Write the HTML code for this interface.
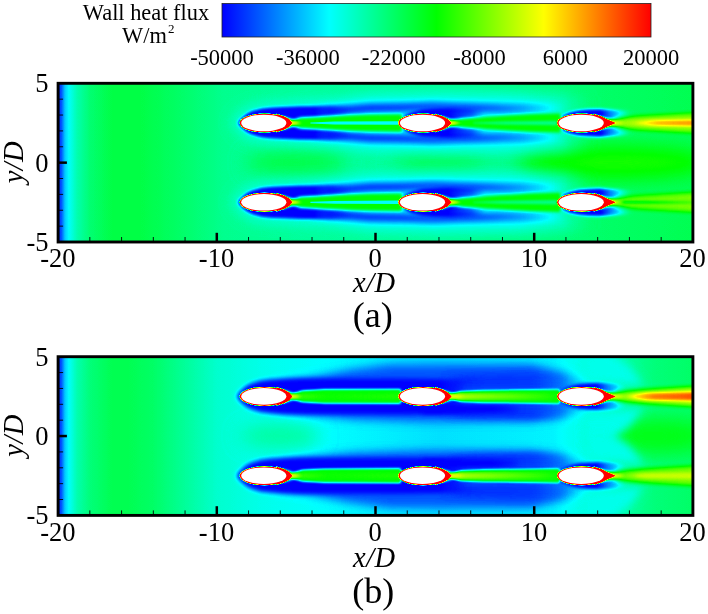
<!DOCTYPE html>
<html><head><meta charset="utf-8"><title>Wall heat flux</title>
<style>
html,body{margin:0;padding:0;background:#fff;}
body{width:708px;height:614px;overflow:hidden;position:relative;font-family:"Liberation Serif",serif;}
svg{position:absolute;left:0;top:0;display:block}
text{font-family:"Liberation Serif",serif;fill:#000}
.t{font-size:22.5px}
.k{font-size:26.5px}
.ax{font-size:28.5px;font-style:italic;letter-spacing:0.4px}
.cap{font-size:36px}
.lg{font-size:22.4px}
</style></head><body>
<svg width="708" height="614" viewBox="0 0 708 614">
<defs>
<linearGradient id="cb" x1="0" x2="1" y1="0" y2="0">
<stop offset="0" stop-color="#0000ff"/><stop offset="0.25" stop-color="#00ffff"/><stop offset="0.5" stop-color="#00ff00"/><stop offset="0.75" stop-color="#ffff00"/><stop offset="1" stop-color="#ff0000"/>
</linearGradient>
<filter id="cmap" filterUnits="userSpaceOnUse" x="0" y="0" width="708" height="614" color-interpolation-filters="sRGB">
<feComponentTransfer>
<feFuncR type="table" tableValues="0 0 0 1 1"/>
<feFuncG type="table" tableValues="0 1 1 1 0"/>
<feFuncB type="table" tableValues="1 1 0 0 0"/>
</feComponentTransfer>
</filter>
<filter id="b07" filterUnits="userSpaceOnUse" x="0" y="0" width="708" height="614" color-interpolation-filters="sRGB"><feGaussianBlur stdDeviation="0.7"/></filter>
<filter id="b1" filterUnits="userSpaceOnUse" x="0" y="0" width="708" height="614" color-interpolation-filters="sRGB"><feGaussianBlur stdDeviation="1"/></filter>
<filter id="b15" filterUnits="userSpaceOnUse" x="0" y="0" width="708" height="614" color-interpolation-filters="sRGB"><feGaussianBlur stdDeviation="1.5"/></filter>
<filter id="b2" filterUnits="userSpaceOnUse" x="0" y="0" width="708" height="614" color-interpolation-filters="sRGB"><feGaussianBlur stdDeviation="2"/></filter>
<filter id="b3" filterUnits="userSpaceOnUse" x="0" y="0" width="708" height="614" color-interpolation-filters="sRGB"><feGaussianBlur stdDeviation="3"/></filter>
<filter id="b4" filterUnits="userSpaceOnUse" x="0" y="0" width="708" height="614" color-interpolation-filters="sRGB"><feGaussianBlur stdDeviation="4"/></filter>
<filter id="b6" filterUnits="userSpaceOnUse" x="0" y="0" width="708" height="614" color-interpolation-filters="sRGB"><feGaussianBlur stdDeviation="6"/></filter>
<filter id="b9" filterUnits="userSpaceOnUse" x="0" y="0" width="708" height="614" color-interpolation-filters="sRGB"><feGaussianBlur stdDeviation="9"/></filter>
<filter id="b14" filterUnits="userSpaceOnUse" x="0" y="0" width="708" height="614" color-interpolation-filters="sRGB"><feGaussianBlur stdDeviation="14"/></filter>
<linearGradient id="g1" gradientUnits="userSpaceOnUse" x1="58.1" x2="692.9" y1="0" y2="0"><stop offset="0.000" stop-color="#080808" stop-opacity="1.00"/><stop offset="0.005" stop-color="#141414" stop-opacity="1.00"/><stop offset="0.011" stop-color="#333333" stop-opacity="1.00"/><stop offset="0.018" stop-color="#424242" stop-opacity="1.00"/><stop offset="0.030" stop-color="#545454" stop-opacity="1.00"/><stop offset="0.050" stop-color="#636363" stop-opacity="1.00"/><stop offset="0.085" stop-color="#6e6e6e" stop-opacity="1.00"/><stop offset="0.130" stop-color="#6e6e6e" stop-opacity="1.00"/><stop offset="0.190" stop-color="#666666" stop-opacity="1.00"/><stop offset="0.260" stop-color="#5c5c5c" stop-opacity="1.00"/><stop offset="0.400" stop-color="#595959" stop-opacity="1.00"/><stop offset="0.600" stop-color="#5c5c5c" stop-opacity="1.00"/><stop offset="0.800" stop-color="#636363" stop-opacity="1.00"/><stop offset="1.000" stop-color="#6b6b6b" stop-opacity="1.00"/></linearGradient>
<linearGradient id="g2" gradientUnits="userSpaceOnUse" x1="224.4" x2="591.8" y1="0" y2="0"><stop offset="0.000" stop-color="#454545" stop-opacity="0.60"/><stop offset="0.300" stop-color="#424242" stop-opacity="0.85"/><stop offset="0.800" stop-color="#424242" stop-opacity="0.85"/><stop offset="0.920" stop-color="#474747" stop-opacity="0.60"/><stop offset="1.000" stop-color="#4c4c4c" stop-opacity="0.00"/></linearGradient>
<linearGradient id="g3" gradientUnits="userSpaceOnUse" x1="309.4" x2="566.8" y1="0" y2="0"><stop offset="0.000" stop-color="#000000" stop-opacity="0.00"/><stop offset="0.080" stop-color="#000000" stop-opacity="1.00"/><stop offset="0.200" stop-color="#000000" stop-opacity="0.95"/><stop offset="0.420" stop-color="#000000" stop-opacity="0.88"/><stop offset="0.620" stop-color="#000000" stop-opacity="0.84"/><stop offset="0.720" stop-color="#000000" stop-opacity="0.70"/><stop offset="0.820" stop-color="#000000" stop-opacity="0.50"/><stop offset="0.920" stop-color="#000000" stop-opacity="0.26"/><stop offset="1.000" stop-color="#000000" stop-opacity="0.00"/></linearGradient>
<linearGradient id="g4" gradientUnits="userSpaceOnUse" x1="234.4" x2="349.4" y1="0" y2="0"><stop offset="0.000" stop-color="#000000" stop-opacity="1.00"/><stop offset="0.700" stop-color="#000000" stop-opacity="1.00"/><stop offset="0.850" stop-color="#000000" stop-opacity="0.60"/><stop offset="1.000" stop-color="#000000" stop-opacity="0.00"/></linearGradient>
<linearGradient id="g5" gradientUnits="userSpaceOnUse" x1="393.1" x2="485.1" y1="0" y2="0"><stop offset="0.000" stop-color="#000000" stop-opacity="1.00"/><stop offset="0.600" stop-color="#000000" stop-opacity="1.00"/><stop offset="0.850" stop-color="#000000" stop-opacity="0.60"/><stop offset="1.000" stop-color="#000000" stop-opacity="0.00"/></linearGradient>
<linearGradient id="g6" gradientUnits="userSpaceOnUse" x1="551.8" x2="631.8" y1="0" y2="0"><stop offset="0.000" stop-color="#242424" stop-opacity="1.00"/><stop offset="0.250" stop-color="#000000" stop-opacity="1.00"/><stop offset="0.620" stop-color="#000000" stop-opacity="1.00"/><stop offset="0.820" stop-color="#1f1f1f" stop-opacity="0.70"/><stop offset="1.000" stop-color="#404040" stop-opacity="0.00"/></linearGradient>
<linearGradient id="g7" gradientUnits="userSpaceOnUse" x1="603.8" x2="692.9" y1="0" y2="0"><stop offset="0.000" stop-color="#cccccc" stop-opacity="1.00"/><stop offset="0.100" stop-color="#a8a8a8" stop-opacity="1.00"/><stop offset="0.450" stop-color="#a3a3a3" stop-opacity="1.00"/><stop offset="1.000" stop-color="#a3a3a3" stop-opacity="1.00"/></linearGradient>
<linearGradient id="g8" gradientUnits="userSpaceOnUse" x1="617.8" x2="692.9" y1="0" y2="0"><stop offset="0.000" stop-color="#9e9e9e" stop-opacity="0.00"/><stop offset="0.300" stop-color="#bdbdbd" stop-opacity="1.00"/><stop offset="0.550" stop-color="#d1d1d1" stop-opacity="1.00"/><stop offset="1.000" stop-color="#d9d9d9" stop-opacity="1.00"/></linearGradient>
<linearGradient id="g9" gradientUnits="userSpaceOnUse" x1="224.4" x2="591.8" y1="0" y2="0"><stop offset="0.000" stop-color="#454545" stop-opacity="0.60"/><stop offset="0.300" stop-color="#424242" stop-opacity="0.85"/><stop offset="0.800" stop-color="#424242" stop-opacity="0.85"/><stop offset="0.920" stop-color="#474747" stop-opacity="0.60"/><stop offset="1.000" stop-color="#4c4c4c" stop-opacity="0.00"/></linearGradient>
<linearGradient id="g10" gradientUnits="userSpaceOnUse" x1="309.4" x2="566.8" y1="0" y2="0"><stop offset="0.000" stop-color="#000000" stop-opacity="0.00"/><stop offset="0.080" stop-color="#000000" stop-opacity="1.00"/><stop offset="0.200" stop-color="#000000" stop-opacity="0.95"/><stop offset="0.420" stop-color="#000000" stop-opacity="0.88"/><stop offset="0.620" stop-color="#000000" stop-opacity="0.84"/><stop offset="0.720" stop-color="#000000" stop-opacity="0.70"/><stop offset="0.820" stop-color="#000000" stop-opacity="0.50"/><stop offset="0.920" stop-color="#000000" stop-opacity="0.26"/><stop offset="1.000" stop-color="#000000" stop-opacity="0.00"/></linearGradient>
<linearGradient id="g11" gradientUnits="userSpaceOnUse" x1="234.4" x2="349.4" y1="0" y2="0"><stop offset="0.000" stop-color="#000000" stop-opacity="1.00"/><stop offset="0.700" stop-color="#000000" stop-opacity="1.00"/><stop offset="0.850" stop-color="#000000" stop-opacity="0.60"/><stop offset="1.000" stop-color="#000000" stop-opacity="0.00"/></linearGradient>
<linearGradient id="g12" gradientUnits="userSpaceOnUse" x1="393.1" x2="485.1" y1="0" y2="0"><stop offset="0.000" stop-color="#000000" stop-opacity="1.00"/><stop offset="0.600" stop-color="#000000" stop-opacity="1.00"/><stop offset="0.850" stop-color="#000000" stop-opacity="0.60"/><stop offset="1.000" stop-color="#000000" stop-opacity="0.00"/></linearGradient>
<linearGradient id="g13" gradientUnits="userSpaceOnUse" x1="551.8" x2="631.8" y1="0" y2="0"><stop offset="0.000" stop-color="#242424" stop-opacity="1.00"/><stop offset="0.250" stop-color="#000000" stop-opacity="1.00"/><stop offset="0.620" stop-color="#000000" stop-opacity="1.00"/><stop offset="0.820" stop-color="#1f1f1f" stop-opacity="0.70"/><stop offset="1.000" stop-color="#404040" stop-opacity="0.00"/></linearGradient>
<linearGradient id="g14" gradientUnits="userSpaceOnUse" x1="603.8" x2="692.9" y1="0" y2="0"><stop offset="0.000" stop-color="#cccccc" stop-opacity="1.00"/><stop offset="0.100" stop-color="#9e9e9e" stop-opacity="1.00"/><stop offset="0.450" stop-color="#999999" stop-opacity="1.00"/><stop offset="1.000" stop-color="#9e9e9e" stop-opacity="1.00"/></linearGradient>
<linearGradient id="g15" gradientUnits="userSpaceOnUse" x1="611.8" x2="692.9" y1="0" y2="0"><stop offset="0.000" stop-color="#545454" stop-opacity="1.00"/><stop offset="0.500" stop-color="#737373" stop-opacity="1.00"/><stop offset="1.000" stop-color="#858585" stop-opacity="0.50"/></linearGradient>
<linearGradient id="g16" gradientUnits="userSpaceOnUse" x1="58.1" x2="692.9" y1="0" y2="0"><stop offset="0.000" stop-color="#080808" stop-opacity="1.00"/><stop offset="0.005" stop-color="#141414" stop-opacity="1.00"/><stop offset="0.011" stop-color="#333333" stop-opacity="1.00"/><stop offset="0.018" stop-color="#424242" stop-opacity="1.00"/><stop offset="0.030" stop-color="#545454" stop-opacity="1.00"/><stop offset="0.050" stop-color="#616161" stop-opacity="1.00"/><stop offset="0.085" stop-color="#6b6b6b" stop-opacity="1.00"/><stop offset="0.110" stop-color="#6b6b6b" stop-opacity="1.00"/><stop offset="0.150" stop-color="#666666" stop-opacity="1.00"/><stop offset="0.200" stop-color="#595959" stop-opacity="1.00"/><stop offset="0.250" stop-color="#4c4c4c" stop-opacity="1.00"/><stop offset="0.320" stop-color="#454545" stop-opacity="1.00"/><stop offset="0.420" stop-color="#404040" stop-opacity="1.00"/><stop offset="0.600" stop-color="#383838" stop-opacity="1.00"/><stop offset="0.780" stop-color="#3d3d3d" stop-opacity="1.00"/><stop offset="0.840" stop-color="#4a4a4a" stop-opacity="1.00"/><stop offset="0.890" stop-color="#575757" stop-opacity="1.00"/><stop offset="0.940" stop-color="#616161" stop-opacity="1.00"/><stop offset="1.000" stop-color="#666666" stop-opacity="1.00"/></linearGradient>
<linearGradient id="g17" gradientUnits="userSpaceOnUse" x1="254.4" x2="596.8" y1="0" y2="0"><stop offset="0.000" stop-color="#1a1a1a" stop-opacity="1.00"/><stop offset="0.300" stop-color="#171717" stop-opacity="1.00"/><stop offset="0.820" stop-color="#141414" stop-opacity="1.00"/><stop offset="0.900" stop-color="#1a1a1a" stop-opacity="0.85"/><stop offset="0.950" stop-color="#262626" stop-opacity="0.50"/><stop offset="1.000" stop-color="#333333" stop-opacity="0.00"/></linearGradient>
<linearGradient id="g18" gradientUnits="userSpaceOnUse" x1="443.1" x2="569.8" y1="0" y2="0"><stop offset="0.000" stop-color="#0a0a0a" stop-opacity="0.00"/><stop offset="0.150" stop-color="#0a0a0a" stop-opacity="0.90"/><stop offset="0.700" stop-color="#0d0d0d" stop-opacity="0.85"/><stop offset="0.880" stop-color="#141414" stop-opacity="0.50"/><stop offset="1.000" stop-color="#1a1a1a" stop-opacity="0.00"/></linearGradient>
<linearGradient id="g19" gradientUnits="userSpaceOnUse" x1="234.4" x2="468.1" y1="0" y2="0"><stop offset="0.000" stop-color="#000000" stop-opacity="1.00"/><stop offset="0.880" stop-color="#000000" stop-opacity="1.00"/><stop offset="0.950" stop-color="#000000" stop-opacity="0.60"/><stop offset="1.000" stop-color="#000000" stop-opacity="0.00"/></linearGradient>
<linearGradient id="g20" gradientUnits="userSpaceOnUse" x1="423.1" x2="523.1" y1="0" y2="0"><stop offset="0.000" stop-color="#000000" stop-opacity="1.00"/><stop offset="0.700" stop-color="#000000" stop-opacity="1.00"/><stop offset="0.850" stop-color="#000000" stop-opacity="0.60"/><stop offset="1.000" stop-color="#000000" stop-opacity="0.00"/></linearGradient>
<linearGradient id="g21" gradientUnits="userSpaceOnUse" x1="551.8" x2="626.8" y1="0" y2="0"><stop offset="0.000" stop-color="#1a1a1a" stop-opacity="1.00"/><stop offset="0.300" stop-color="#000000" stop-opacity="1.00"/><stop offset="0.600" stop-color="#000000" stop-opacity="1.00"/><stop offset="0.850" stop-color="#1f1f1f" stop-opacity="0.60"/><stop offset="1.000" stop-color="#404040" stop-opacity="0.00"/></linearGradient>
<linearGradient id="g22" gradientUnits="userSpaceOnUse" x1="294.4" x2="401.1" y1="0" y2="0"><stop offset="0.000" stop-color="#999999" stop-opacity="0.80"/><stop offset="0.300" stop-color="#858585" stop-opacity="0.50"/><stop offset="1.000" stop-color="#8a8a8a" stop-opacity="0.60"/></linearGradient>
<linearGradient id="g23" gradientUnits="userSpaceOnUse" x1="448.1" x2="559.8" y1="0" y2="0"><stop offset="0.000" stop-color="#cccccc" stop-opacity="1.00"/><stop offset="0.150" stop-color="#a8a8a8" stop-opacity="1.00"/><stop offset="0.500" stop-color="#999999" stop-opacity="1.00"/><stop offset="0.800" stop-color="#8c8c8c" stop-opacity="1.00"/><stop offset="1.000" stop-color="#808080" stop-opacity="1.00"/></linearGradient>
<linearGradient id="g24" gradientUnits="userSpaceOnUse" x1="603.8" x2="692.9" y1="0" y2="0"><stop offset="0.000" stop-color="#cccccc" stop-opacity="1.00"/><stop offset="0.100" stop-color="#a3a3a3" stop-opacity="1.00"/><stop offset="0.450" stop-color="#a3a3a3" stop-opacity="1.00"/><stop offset="1.000" stop-color="#adadad" stop-opacity="1.00"/></linearGradient>
<linearGradient id="g25" gradientUnits="userSpaceOnUse" x1="615.8" x2="692.9" y1="0" y2="0"><stop offset="0.000" stop-color="#9e9e9e" stop-opacity="0.00"/><stop offset="0.250" stop-color="#c7c7c7" stop-opacity="1.00"/><stop offset="0.500" stop-color="#e0e0e0" stop-opacity="1.00"/><stop offset="1.000" stop-color="#ebebeb" stop-opacity="1.00"/></linearGradient>
<linearGradient id="g26" gradientUnits="userSpaceOnUse" x1="254.4" x2="596.8" y1="0" y2="0"><stop offset="0.000" stop-color="#1a1a1a" stop-opacity="1.00"/><stop offset="0.300" stop-color="#171717" stop-opacity="1.00"/><stop offset="0.820" stop-color="#141414" stop-opacity="1.00"/><stop offset="0.900" stop-color="#1a1a1a" stop-opacity="0.85"/><stop offset="0.950" stop-color="#262626" stop-opacity="0.50"/><stop offset="1.000" stop-color="#333333" stop-opacity="0.00"/></linearGradient>
<linearGradient id="g27" gradientUnits="userSpaceOnUse" x1="443.1" x2="569.8" y1="0" y2="0"><stop offset="0.000" stop-color="#0a0a0a" stop-opacity="0.00"/><stop offset="0.150" stop-color="#0a0a0a" stop-opacity="0.90"/><stop offset="0.700" stop-color="#0d0d0d" stop-opacity="0.85"/><stop offset="0.880" stop-color="#141414" stop-opacity="0.50"/><stop offset="1.000" stop-color="#1a1a1a" stop-opacity="0.00"/></linearGradient>
<linearGradient id="g28" gradientUnits="userSpaceOnUse" x1="234.4" x2="468.1" y1="0" y2="0"><stop offset="0.000" stop-color="#000000" stop-opacity="1.00"/><stop offset="0.880" stop-color="#000000" stop-opacity="1.00"/><stop offset="0.950" stop-color="#000000" stop-opacity="0.60"/><stop offset="1.000" stop-color="#000000" stop-opacity="0.00"/></linearGradient>
<linearGradient id="g29" gradientUnits="userSpaceOnUse" x1="423.1" x2="523.1" y1="0" y2="0"><stop offset="0.000" stop-color="#000000" stop-opacity="1.00"/><stop offset="0.700" stop-color="#000000" stop-opacity="1.00"/><stop offset="0.850" stop-color="#000000" stop-opacity="0.60"/><stop offset="1.000" stop-color="#000000" stop-opacity="0.00"/></linearGradient>
<linearGradient id="g30" gradientUnits="userSpaceOnUse" x1="551.8" x2="626.8" y1="0" y2="0"><stop offset="0.000" stop-color="#1a1a1a" stop-opacity="1.00"/><stop offset="0.300" stop-color="#000000" stop-opacity="1.00"/><stop offset="0.600" stop-color="#000000" stop-opacity="1.00"/><stop offset="0.850" stop-color="#1f1f1f" stop-opacity="0.60"/><stop offset="1.000" stop-color="#404040" stop-opacity="0.00"/></linearGradient>
<linearGradient id="g31" gradientUnits="userSpaceOnUse" x1="294.4" x2="401.1" y1="0" y2="0"><stop offset="0.000" stop-color="#999999" stop-opacity="0.80"/><stop offset="0.300" stop-color="#858585" stop-opacity="0.50"/><stop offset="1.000" stop-color="#8a8a8a" stop-opacity="0.60"/></linearGradient>
<linearGradient id="g32" gradientUnits="userSpaceOnUse" x1="448.1" x2="559.8" y1="0" y2="0"><stop offset="0.000" stop-color="#cccccc" stop-opacity="1.00"/><stop offset="0.150" stop-color="#a8a8a8" stop-opacity="1.00"/><stop offset="0.500" stop-color="#999999" stop-opacity="1.00"/><stop offset="0.800" stop-color="#8c8c8c" stop-opacity="1.00"/><stop offset="1.000" stop-color="#808080" stop-opacity="1.00"/></linearGradient>
<linearGradient id="g33" gradientUnits="userSpaceOnUse" x1="603.8" x2="692.9" y1="0" y2="0"><stop offset="0.000" stop-color="#cccccc" stop-opacity="1.00"/><stop offset="0.100" stop-color="#999999" stop-opacity="1.00"/><stop offset="0.450" stop-color="#999999" stop-opacity="1.00"/><stop offset="1.000" stop-color="#9e9e9e" stop-opacity="1.00"/></linearGradient>
<linearGradient id="g34" gradientUnits="userSpaceOnUse" x1="615.8" x2="692.9" y1="0" y2="0"><stop offset="0.000" stop-color="#999999" stop-opacity="0.00"/><stop offset="0.300" stop-color="#b2b2b2" stop-opacity="1.00"/><stop offset="1.000" stop-color="#b2b2b2" stop-opacity="1.00"/></linearGradient>
</defs>
<rect x="222" y="3.5" width="429" height="33.5" fill="url(#cb)" stroke="#222" stroke-width="0.8"/>
<text class="lg" x="146" y="20" text-anchor="middle">Wall heat flux</text>
<text class="lg" x="144.5" y="43.3" text-anchor="middle">W/m</text>
<text x="171.3" y="33" text-anchor="middle" style="font-size:13px">2</text>
<text class="t" x="222.0" y="64.5" text-anchor="middle">-50000</text>
<text class="t" x="307.8" y="64.5" text-anchor="middle">-36000</text>
<text class="t" x="393.6" y="64.5" text-anchor="middle">-22000</text>
<text class="t" x="479.4" y="64.5" text-anchor="middle">-8000</text>
<text class="t" x="565.2" y="64.5" text-anchor="middle">6000</text>
<text class="t" x="651.0" y="64.5" text-anchor="middle">20000</text>
<clipPath id="clipa"><rect x="58.10" y="83.30" width="634.80" height="158.70"/></clipPath>
<g clip-path="url(#clipa)"><g filter="url(#cmap)">
<rect x="56.1" y="81.3" width="638.8" height="162.7" fill="url(#g1)"/>
<g filter="url(#b9)"><ellipse cx="296.1" cy="162.6" rx="50" ry="13" fill="#6e6e6e"/><ellipse cx="439.0" cy="162.6" rx="45" ry="10" fill="#6e6e6e"/><ellipse cx="613.5" cy="162.6" rx="95" ry="17" fill="#858585"/></g><g filter="url(#b6)"><path d="M230.4,123.0 L231.4,119.6 L234.5,115.3 L239.5,109.9 L244.4,106.7 L254.3,102.9 L264.2,101.5 L274.0,101.0 L334.4,99.0 L369.4,94.0 L443.1,92.0 L561.8,93.0 L591.8,97.0 L591.8,149.0 L561.8,153.0 L443.1,154.0 L369.4,152.0 L334.4,147.0 L274.0,145.0 L264.2,144.5 L254.3,143.0 L244.4,139.3 L239.5,136.0 L234.5,130.6 L231.4,126.3 Z" fill="url(#g2)"/></g>
<g filter="url(#b3)"><path d="M309.4,107.5 L336.4,106.8 L369.4,104.0 L403.1,103.5 L433.1,102.5 L463.1,103.5 L503.1,104.0 L566.8,103.0 L566.8,113.0 L503.1,113.0 L463.1,111.5 L433.1,109.5 L403.1,111.5 L369.4,112.0 L336.4,114.8 L309.4,114.5 Z M309.4,131.5 L336.4,131.2 L369.4,134.0 L403.1,134.5 L433.1,136.5 L463.1,134.5 L503.1,133.0 L566.8,133.0 L566.8,143.0 L503.1,142.0 L463.1,142.5 L433.1,143.5 L403.1,142.5 L369.4,142.0 L336.4,139.2 L309.4,138.5 Z" fill="url(#g3)"/></g>
<g filter="url(#b15)"><path d="M237.9,123.0 L238.9,120.5 L242.0,117.4 L247.0,113.5 L251.9,111.1 L261.8,108.4 L271.7,107.4 L281.5,107.0 L300.4,106.2 L336.4,106.2 L349.4,106.0 L349.4,140.0 L336.4,139.8 L300.4,139.8 L281.5,139.0 L271.7,138.6 L261.8,137.6 L251.9,134.8 L247.0,132.5 L242.0,128.5 L238.9,125.4 Z" fill="url(#g4)"/></g>
<g filter="url(#b15)"><path d="M398.1,123.0 L399.1,120.7 L402.2,117.8 L407.2,114.1 L412.1,111.9 L422.0,109.3 L431.9,108.3 L441.7,108.0 L453.1,108.0 L485.1,110.0 L485.1,136.0 L453.1,138.0 L441.7,138.0 L431.9,137.6 L422.0,136.7 L412.1,134.1 L407.2,131.9 L402.2,128.2 L399.1,125.3 Z" fill="url(#g5)"/></g>
<g filter="url(#b15)"><path d="M554.8,123.0 L555.8,120.8 L558.9,118.1 L563.9,114.7 L568.8,112.6 L578.7,110.2 L588.6,109.3 L598.4,109.0 L611.8,109.7 L631.8,111.0 L631.8,135.0 L611.8,136.3 L598.4,137.0 L588.6,136.6 L578.7,135.7 L568.8,133.4 L563.9,131.3 L558.9,127.8 L555.8,125.1 Z" fill="url(#g6)"/></g>
<g filter="url(#b15)"><path d="M288.4,123.0 L293.4,120.2 L300.4,117.7 L324.4,116.4 L339.4,115.7 L369.4,114.8 L401.1,114.2 L404.1,123.0 L401.1,131.8 L369.4,131.2 L339.4,130.3 L324.4,129.6 L300.4,128.3 L293.4,125.8 Z" fill="#808080"/></g>
<g filter="url(#b07)"><path d="M310.4,122.4 L334.4,121.6 L398.1,121.3 L398.1,124.7 L334.4,124.4 L310.4,123.6 Z" fill="#404040"/></g>
<g filter="url(#b15)"><path d="M447.1,123.0 L452.1,120.0 L463.1,118.4 L480.1,117.4 L500.1,116.0 L530.1,114.2 L559.8,113.4 L562.8,123.0 L559.8,132.6 L530.1,131.8 L500.1,130.0 L480.1,128.6 L463.1,127.6 L452.1,126.0 Z" fill="#808080"/></g>
<g filter="url(#b1)"><path d="M473.1,122.6 L503.1,121.5 L556.8,120.8 L556.8,125.2 L503.1,124.5 L473.1,123.4 Z" fill="#5e5e5e"/></g>
<g filter="url(#b2)"><path d="M603.8,123.0 L617.8,118.5 L641.8,116.0 L697.9,113.0 L697.9,133.0 L641.8,130.0 L617.8,127.5 Z" fill="url(#g7)"/></g>
<g filter="url(#b15)"><path d="M617.8,123.0 L651.8,120.2 L697.9,119.7 L697.9,126.3 L651.8,125.8 Z" fill="url(#g8)"/></g>
<g filter="url(#b15)"><path d="M282.4,117.0 L301.4,123.0 L282.4,129.0 Z" fill="#b8b8b8"/></g>
<g filter="url(#b07)"><path d="M276.4,113.7 L284.4,116.2 L289.4,119.0 L292.4,123.0 L289.4,127.0 L284.4,129.8 L276.4,132.3 Z" fill="#ffffff"/><ellipse cx="264.4" cy="123.0" rx="24.8" ry="9.5" fill="#ffffff"/></g>
<g filter="url(#b15)"><path d="M441.1,117.0 L460.6,123.0 L441.1,129.0 Z" fill="#b8b8b8"/></g>
<g filter="url(#b07)"><path d="M435.1,113.7 L443.1,116.2 L448.1,119.0 L451.6,123.0 L448.1,127.0 L443.1,129.8 L435.1,132.3 Z" fill="#ffffff"/><ellipse cx="423.1" cy="123.0" rx="24.8" ry="9.5" fill="#ffffff"/></g>
<g filter="url(#b15)"><path d="M599.8,117.0 L624.8,123.0 L599.8,129.0 Z" fill="#b8b8b8"/></g>
<g filter="url(#b07)"><path d="M593.8,113.7 L601.8,116.2 L606.8,119.0 L615.8,123.0 L606.8,127.0 L601.8,129.8 L593.8,132.3 Z" fill="#ffffff"/><ellipse cx="581.8" cy="123.0" rx="24.8" ry="9.5" fill="#ffffff"/></g>
<g filter="url(#b6)"><path d="M230.4,202.3 L231.4,199.0 L234.5,194.7 L239.5,189.3 L244.4,186.0 L254.3,182.3 L264.2,180.8 L274.0,180.3 L334.4,178.3 L369.4,173.3 L443.1,171.3 L561.8,172.3 L591.8,176.3 L591.8,228.3 L561.8,232.3 L443.1,233.3 L369.4,231.3 L334.4,226.3 L274.0,224.3 L264.2,223.8 L254.3,222.4 L244.4,218.6 L239.5,215.4 L234.5,210.0 L231.4,205.7 Z" fill="url(#g9)"/></g>
<g filter="url(#b3)"><path d="M309.4,186.8 L336.4,186.1 L369.4,183.3 L403.1,182.8 L433.1,181.8 L463.1,182.8 L503.1,183.3 L566.8,182.3 L566.8,192.3 L503.1,192.3 L463.1,190.8 L433.1,188.8 L403.1,190.8 L369.4,191.3 L336.4,194.1 L309.4,193.8 Z M309.4,210.8 L336.4,210.5 L369.4,213.3 L403.1,213.8 L433.1,215.8 L463.1,213.8 L503.1,212.3 L566.8,212.3 L566.8,222.3 L503.1,221.3 L463.1,221.8 L433.1,222.8 L403.1,221.8 L369.4,221.3 L336.4,218.5 L309.4,217.8 Z" fill="url(#g10)"/></g>
<g filter="url(#b15)"><path d="M237.9,202.3 L238.9,199.9 L242.0,196.8 L247.0,192.8 L251.9,190.5 L261.8,187.7 L271.7,186.7 L281.5,186.3 L300.4,185.5 L336.4,185.5 L349.4,185.3 L349.4,219.3 L336.4,219.1 L300.4,219.1 L281.5,218.3 L271.7,217.9 L261.8,216.9 L251.9,214.2 L247.0,211.8 L242.0,207.9 L238.9,204.8 Z" fill="url(#g11)"/></g>
<g filter="url(#b15)"><path d="M398.1,202.3 L399.1,200.0 L402.2,197.1 L407.2,193.4 L412.1,191.2 L422.0,188.6 L431.9,187.7 L441.7,187.3 L453.1,187.3 L485.1,189.3 L485.1,215.3 L453.1,217.3 L441.7,217.3 L431.9,217.0 L422.0,216.0 L412.1,213.4 L407.2,211.2 L402.2,207.5 L399.1,204.6 Z" fill="url(#g12)"/></g>
<g filter="url(#b15)"><path d="M554.8,202.3 L555.8,200.2 L558.9,197.5 L563.9,194.0 L568.8,191.9 L578.7,189.6 L588.6,188.7 L598.4,188.3 L611.8,189.0 L631.8,190.3 L631.8,214.3 L611.8,215.6 L598.4,216.3 L588.6,216.0 L578.7,215.1 L568.8,212.7 L563.9,210.6 L558.9,207.2 L555.8,204.5 Z" fill="url(#g13)"/></g>
<g filter="url(#b15)"><path d="M288.4,202.3 L293.4,199.5 L300.4,197.0 L324.4,195.7 L339.4,195.0 L369.4,194.1 L401.1,193.5 L404.1,202.3 L401.1,211.1 L369.4,210.5 L339.4,209.6 L324.4,208.9 L300.4,207.6 L293.4,205.1 Z" fill="#808080"/></g>
<g filter="url(#b07)"><path d="M310.4,201.7 L334.4,200.9 L398.1,200.6 L398.1,204.0 L334.4,203.7 L310.4,202.9 Z" fill="#404040"/></g>
<g filter="url(#b15)"><path d="M447.1,202.3 L452.1,199.3 L463.1,197.7 L480.1,196.7 L500.1,195.3 L530.1,193.5 L559.8,192.7 L562.8,202.3 L559.8,211.9 L530.1,211.1 L500.1,209.3 L480.1,207.9 L463.1,206.9 L452.1,205.3 Z" fill="#808080"/></g>
<g filter="url(#b1)"><path d="M473.1,201.9 L503.1,200.8 L556.8,200.1 L556.8,204.5 L503.1,203.8 L473.1,202.7 Z" fill="#5e5e5e"/></g>
<g filter="url(#b2)"><path d="M603.8,202.3 L617.8,197.8 L641.8,195.3 L697.9,192.3 L697.9,212.3 L641.8,209.3 L617.8,206.8 Z" fill="url(#g14)"/></g>
<g filter="url(#b1)"><path d="M613.8,201.5 L697.9,200.7 L697.9,203.9 L613.8,203.1 Z" fill="url(#g15)"/></g>
<g filter="url(#b15)"><path d="M282.4,196.3 L301.4,202.3 L282.4,208.3 Z" fill="#b8b8b8"/></g>
<g filter="url(#b07)"><path d="M276.4,193.0 L284.4,195.5 L289.4,198.3 L292.4,202.3 L289.4,206.3 L284.4,209.1 L276.4,211.6 Z" fill="#ffffff"/><ellipse cx="264.4" cy="202.3" rx="24.8" ry="9.5" fill="#ffffff"/></g>
<g filter="url(#b15)"><path d="M441.1,196.3 L460.6,202.3 L441.1,208.3 Z" fill="#b8b8b8"/></g>
<g filter="url(#b07)"><path d="M435.1,193.0 L443.1,195.5 L448.1,198.3 L451.6,202.3 L448.1,206.3 L443.1,209.1 L435.1,211.6 Z" fill="#ffffff"/><ellipse cx="423.1" cy="202.3" rx="24.8" ry="9.5" fill="#ffffff"/></g>
<g filter="url(#b15)"><path d="M599.8,196.3 L624.8,202.3 L599.8,208.3 Z" fill="#b8b8b8"/></g>
<g filter="url(#b07)"><path d="M593.8,193.0 L601.8,195.5 L606.8,198.3 L615.8,202.3 L606.8,206.3 L601.8,209.1 L593.8,211.6 Z" fill="#ffffff"/><ellipse cx="581.8" cy="202.3" rx="24.8" ry="9.5" fill="#ffffff"/></g>
</g>
<ellipse cx="263.8" cy="123.0" rx="22.6" ry="8.3" fill="#fff"/>
<ellipse cx="263.8" cy="202.3" rx="22.6" ry="8.3" fill="#fff"/>
<ellipse cx="422.5" cy="123.0" rx="22.6" ry="8.3" fill="#fff"/>
<ellipse cx="422.5" cy="202.3" rx="22.6" ry="8.3" fill="#fff"/>
<ellipse cx="581.2" cy="123.0" rx="22.6" ry="8.3" fill="#fff"/>
<ellipse cx="581.2" cy="202.3" rx="22.6" ry="8.3" fill="#fff"/>
</g>
<line x1="89.84" x2="89.84" y1="242.00" y2="237.00" stroke="#000" stroke-width="0.9"/>
<line x1="121.58" x2="121.58" y1="242.00" y2="237.00" stroke="#000" stroke-width="0.9"/>
<line x1="153.32" x2="153.32" y1="242.00" y2="237.00" stroke="#000" stroke-width="0.9"/>
<line x1="185.06" x2="185.06" y1="242.00" y2="237.00" stroke="#000" stroke-width="0.9"/>
<line x1="216.80" x2="216.80" y1="242.00" y2="232.80" stroke="#000" stroke-width="2.5"/>
<line x1="248.54" x2="248.54" y1="242.00" y2="237.00" stroke="#000" stroke-width="0.9"/>
<line x1="280.28" x2="280.28" y1="242.00" y2="237.00" stroke="#000" stroke-width="0.9"/>
<line x1="312.02" x2="312.02" y1="242.00" y2="237.00" stroke="#000" stroke-width="0.9"/>
<line x1="343.76" x2="343.76" y1="242.00" y2="237.00" stroke="#000" stroke-width="0.9"/>
<line x1="375.50" x2="375.50" y1="242.00" y2="232.80" stroke="#000" stroke-width="2.5"/>
<line x1="407.24" x2="407.24" y1="242.00" y2="237.00" stroke="#000" stroke-width="0.9"/>
<line x1="438.98" x2="438.98" y1="242.00" y2="237.00" stroke="#000" stroke-width="0.9"/>
<line x1="470.72" x2="470.72" y1="242.00" y2="237.00" stroke="#000" stroke-width="0.9"/>
<line x1="502.46" x2="502.46" y1="242.00" y2="237.00" stroke="#000" stroke-width="0.9"/>
<line x1="534.20" x2="534.20" y1="242.00" y2="232.80" stroke="#000" stroke-width="2.5"/>
<line x1="565.94" x2="565.94" y1="242.00" y2="237.00" stroke="#000" stroke-width="0.9"/>
<line x1="597.68" x2="597.68" y1="242.00" y2="237.00" stroke="#000" stroke-width="0.9"/>
<line x1="629.42" x2="629.42" y1="242.00" y2="237.00" stroke="#000" stroke-width="0.9"/>
<line x1="661.16" x2="661.16" y1="242.00" y2="237.00" stroke="#000" stroke-width="0.9"/>
<line x1="58.10" x2="63.10" y1="226.13" y2="226.13" stroke="#000" stroke-width="0.9"/>
<line x1="58.10" x2="63.10" y1="210.26" y2="210.26" stroke="#000" stroke-width="0.9"/>
<line x1="58.10" x2="63.10" y1="194.39" y2="194.39" stroke="#000" stroke-width="0.9"/>
<line x1="58.10" x2="63.10" y1="178.52" y2="178.52" stroke="#000" stroke-width="0.9"/>
<line x1="58.10" x2="66.90" y1="162.65" y2="162.65" stroke="#000" stroke-width="2.5"/>
<line x1="58.10" x2="63.10" y1="146.78" y2="146.78" stroke="#000" stroke-width="0.9"/>
<line x1="58.10" x2="63.10" y1="130.91" y2="130.91" stroke="#000" stroke-width="0.9"/>
<line x1="58.10" x2="63.10" y1="115.04" y2="115.04" stroke="#000" stroke-width="0.9"/>
<line x1="58.10" x2="63.10" y1="99.17" y2="99.17" stroke="#000" stroke-width="0.9"/>
<rect x="58.10" y="83.30" width="634.80" height="158.70" fill="none" stroke="#000" stroke-width="2.9"/>
<text class="k" x="57.8" y="267.4" text-anchor="middle">-20</text>
<text class="k" x="216.5" y="267.4" text-anchor="middle">-10</text>
<text class="k" x="375.2" y="267.4" text-anchor="middle">0</text>
<text class="k" x="533.9" y="267.4" text-anchor="middle">10</text>
<text class="k" x="692.6" y="267.4" text-anchor="middle">20</text>
<text class="k" x="48.6" y="92.2" text-anchor="end">5</text>
<text class="k" x="48.6" y="171.5" text-anchor="end">0</text>
<text class="k" x="48.6" y="250.9" text-anchor="end">-5</text>
<text class="ax" x="374.3" y="291.9" text-anchor="middle">x/D</text>
<text class="ax" transform="translate(23.3,162.1) rotate(-90)" text-anchor="middle">y/D</text>
<text class="cap" x="372.8" y="327.2" text-anchor="middle">(a)</text>
<clipPath id="clipb"><rect x="58.10" y="356.70" width="634.80" height="158.70"/></clipPath>
<g clip-path="url(#clipb)"><g filter="url(#cmap)">
<rect x="56.1" y="354.7" width="638.8" height="162.7" fill="url(#g16)"/>
<g filter="url(#b9)"><ellipse cx="280.3" cy="436.0" rx="40" ry="12" fill="#595959"/><ellipse cx="653.2" cy="436.0" rx="60" ry="18" fill="#7a7a7a"/></g><g filter="url(#b4)"><path d="M276.4,396.4 L278.4,381.4 L309.4,377.4 L349.4,369.4 L389.4,364.4 L531.8,364.4 L561.8,371.4 L596.8,384.4 L596.8,408.4 L561.8,417.4 L531.8,421.4 L423.1,421.9 L354.4,419.9 L309.4,415.4 L278.4,411.4 Z" fill="url(#g17)"/></g>
<g filter="url(#b4)"><path d="M589.8,381.4 L616.8,383.4 L643.8,385.4 L629.8,366.4 L609.8,352.4 L586.8,352.4 L583.8,368.4 Z M589.8,411.4 L616.8,409.4 L643.8,407.4 L629.8,426.4 L609.8,440.4 L586.8,440.4 L583.8,424.4 Z" fill="#454545"/></g>
<g filter="url(#b3)"><path d="M443.1,377.4 L483.1,374.9 L541.8,373.9 L569.8,374.4 L569.8,386.4 L541.8,387.9 L483.1,387.9 L443.1,387.4 Z M443.1,405.4 L483.1,404.9 L541.8,404.9 L569.8,406.4 L569.8,418.4 L541.8,418.9 L483.1,417.9 L443.1,415.4 Z" fill="url(#g18)"/></g>
<g filter="url(#b2)"><path d="M236.9,396.4 L237.9,393.7 L241.0,390.3 L246.0,386.0 L250.9,383.4 L260.8,380.4 L270.7,379.3 L280.5,378.9 L300.4,378.2 L403.1,378.4 L468.1,379.4 L468.1,413.4 L403.1,414.4 L300.4,414.6 L280.5,413.9 L270.7,413.5 L260.8,412.3 L250.9,409.3 L246.0,406.8 L241.0,402.4 L237.9,399.1 Z" fill="url(#g19)"/></g>
<g filter="url(#b2)"><path d="M423.1,404.4 L523.1,404.4 L523.1,412.9 L423.1,413.4 Z" fill="url(#g20)"/></g>
<g filter="url(#b15)"><path d="M554.8,396.4 L555.8,394.3 L558.9,391.7 L563.9,388.3 L568.8,386.3 L578.7,384.0 L588.6,383.1 L598.4,382.8 L609.8,383.4 L626.8,384.9 L626.8,407.9 L609.8,409.4 L598.4,410.0 L588.6,409.7 L578.7,408.8 L568.8,406.5 L563.9,404.5 L558.9,401.1 L555.8,398.5 Z" fill="url(#g21)"/></g>
<g filter="url(#b1)"><path d="M288.4,396.4 L293.4,393.4 L302.4,390.8 L324.4,389.6 L400.1,389.2 L403.1,396.4 L400.1,403.6 L324.4,403.2 L302.4,402.0 L293.4,399.4 Z" fill="#808080"/></g>
<g filter="url(#b15)"><path d="M292.4,395.4 L309.4,394.2 L399.1,393.9 L399.1,398.9 L309.4,398.6 L292.4,397.4 Z" fill="url(#g22)"/></g>
<g filter="url(#b1)"><path d="M447.1,396.4 L452.1,393.6 L461.1,391.4 L483.1,390.4 L558.8,389.4 L561.8,396.4 L558.8,403.4 L483.1,402.4 L461.1,401.4 L452.1,399.2 Z" fill="#808080"/></g>
<g filter="url(#b15)"><path d="M447.1,396.4 L459.1,393.4 L493.1,393.2 L558.8,393.4 L558.8,399.4 L493.1,399.6 L459.1,399.4 Z" fill="url(#g23)"/></g>
<g filter="url(#b2)"><path d="M603.8,396.4 L617.8,391.9 L641.8,389.4 L697.9,386.4 L697.9,406.4 L641.8,403.4 L617.8,400.9 Z" fill="url(#g24)"/></g>
<g filter="url(#b15)"><path d="M615.8,396.4 L646.8,392.9 L697.9,392.2 L697.9,400.6 L646.8,399.9 Z" fill="url(#g25)"/></g>
<g filter="url(#b15)"><path d="M282.4,390.4 L301.4,396.4 L282.4,402.4 Z" fill="#b8b8b8"/></g>
<g filter="url(#b07)"><path d="M276.4,387.1 L284.4,389.6 L289.4,392.4 L292.4,396.4 L289.4,400.4 L284.4,403.2 L276.4,405.7 Z" fill="#ffffff"/><ellipse cx="264.4" cy="396.4" rx="24.8" ry="9.5" fill="#ffffff"/></g>
<g filter="url(#b15)"><path d="M441.1,390.4 L460.6,396.4 L441.1,402.4 Z" fill="#b8b8b8"/></g>
<g filter="url(#b07)"><path d="M435.1,387.1 L443.1,389.6 L448.1,392.4 L451.6,396.4 L448.1,400.4 L443.1,403.2 L435.1,405.7 Z" fill="#ffffff"/><ellipse cx="423.1" cy="396.4" rx="24.8" ry="9.5" fill="#ffffff"/></g>
<g filter="url(#b15)"><path d="M599.8,390.4 L624.8,396.4 L599.8,402.4 Z" fill="#b8b8b8"/></g>
<g filter="url(#b07)"><path d="M593.8,387.1 L601.8,389.6 L606.8,392.4 L615.8,396.4 L606.8,400.4 L601.8,403.2 L593.8,405.7 Z" fill="#ffffff"/><ellipse cx="581.8" cy="396.4" rx="24.8" ry="9.5" fill="#ffffff"/></g>
<g filter="url(#b4)"><path d="M276.4,475.7 L278.4,490.7 L309.4,494.7 L349.4,502.7 L389.4,507.7 L531.8,507.7 L561.8,500.7 L596.8,487.7 L596.8,463.7 L561.8,454.7 L531.8,450.7 L423.1,450.2 L354.4,452.2 L309.4,456.7 L278.4,460.7 Z" fill="url(#g26)"/></g>
<g filter="url(#b4)"><path d="M589.8,460.7 L616.8,462.7 L643.8,464.7 L629.8,445.7 L609.8,431.7 L586.8,431.7 L583.8,447.7 Z M589.8,490.7 L616.8,488.7 L643.8,486.7 L629.8,505.7 L609.8,519.7 L586.8,519.7 L583.8,503.7 Z" fill="#454545"/></g>
<g filter="url(#b3)"><path d="M443.1,456.7 L483.1,454.2 L541.8,453.2 L569.8,453.7 L569.8,465.7 L541.8,467.2 L483.1,467.2 L443.1,466.7 Z M443.1,484.7 L483.1,484.2 L541.8,484.2 L569.8,485.7 L569.8,497.7 L541.8,498.2 L483.1,497.2 L443.1,494.7 Z" fill="url(#g27)"/></g>
<g filter="url(#b2)"><path d="M236.9,475.7 L237.9,473.0 L241.0,469.7 L246.0,465.3 L250.9,462.8 L260.8,459.8 L270.7,458.6 L280.5,458.2 L300.4,457.5 L403.1,457.7 L468.1,458.7 L468.1,492.7 L403.1,493.7 L300.4,493.9 L280.5,493.2 L270.7,492.8 L260.8,491.7 L250.9,488.7 L246.0,486.1 L241.0,481.8 L237.9,478.4 Z" fill="url(#g28)"/></g>
<g filter="url(#b2)"><path d="M423.1,467.7 L523.1,467.7 L523.1,459.2 L423.1,458.7 Z" fill="url(#g29)"/></g>
<g filter="url(#b15)"><path d="M554.8,475.7 L555.8,473.6 L558.9,471.0 L563.9,467.6 L568.8,465.6 L578.7,463.3 L588.6,462.4 L598.4,462.1 L609.8,462.7 L626.8,464.2 L626.8,487.2 L609.8,488.7 L598.4,489.3 L588.6,489.0 L578.7,488.1 L568.8,485.8 L563.9,483.8 L558.9,480.4 L555.8,477.8 Z" fill="url(#g30)"/></g>
<g filter="url(#b1)"><path d="M288.4,475.7 L293.4,472.7 L302.4,470.1 L324.4,468.9 L400.1,468.5 L403.1,475.7 L400.1,482.9 L324.4,482.5 L302.4,481.3 L293.4,478.7 Z" fill="#808080"/></g>
<g filter="url(#b15)"><path d="M292.4,474.7 L309.4,473.5 L399.1,473.2 L399.1,478.2 L309.4,477.9 L292.4,476.7 Z" fill="url(#g31)"/></g>
<g filter="url(#b1)"><path d="M447.1,475.7 L452.1,472.9 L461.1,470.7 L483.1,469.7 L558.8,468.7 L561.8,475.7 L558.8,482.7 L483.1,481.7 L461.1,480.7 L452.1,478.5 Z" fill="#808080"/></g>
<g filter="url(#b15)"><path d="M447.1,475.7 L459.1,472.7 L493.1,472.5 L558.8,472.7 L558.8,478.7 L493.1,478.9 L459.1,478.7 Z" fill="url(#g32)"/></g>
<g filter="url(#b2)"><path d="M603.8,475.7 L617.8,471.2 L641.8,468.7 L697.9,465.7 L697.9,485.7 L641.8,482.7 L617.8,480.2 Z" fill="url(#g33)"/></g>
<g filter="url(#b15)"><path d="M615.8,475.7 L646.8,472.9 L697.9,472.5 L697.9,478.9 L646.8,478.5 Z" fill="url(#g34)"/></g>
<g filter="url(#b15)"><path d="M282.4,469.7 L301.4,475.7 L282.4,481.7 Z" fill="#b8b8b8"/></g>
<g filter="url(#b07)"><path d="M276.4,466.4 L284.4,468.9 L289.4,471.7 L292.4,475.7 L289.4,479.7 L284.4,482.5 L276.4,485.0 Z" fill="#ffffff"/><ellipse cx="264.4" cy="475.7" rx="24.8" ry="9.5" fill="#ffffff"/></g>
<g filter="url(#b15)"><path d="M441.1,469.7 L460.6,475.7 L441.1,481.7 Z" fill="#b8b8b8"/></g>
<g filter="url(#b07)"><path d="M435.1,466.4 L443.1,468.9 L448.1,471.7 L451.6,475.7 L448.1,479.7 L443.1,482.5 L435.1,485.0 Z" fill="#ffffff"/><ellipse cx="423.1" cy="475.7" rx="24.8" ry="9.5" fill="#ffffff"/></g>
<g filter="url(#b15)"><path d="M599.8,469.7 L624.8,475.7 L599.8,481.7 Z" fill="#b8b8b8"/></g>
<g filter="url(#b07)"><path d="M593.8,466.4 L601.8,468.9 L606.8,471.7 L615.8,475.7 L606.8,479.7 L601.8,482.5 L593.8,485.0 Z" fill="#ffffff"/><ellipse cx="581.8" cy="475.7" rx="24.8" ry="9.5" fill="#ffffff"/></g>
</g>
<ellipse cx="263.8" cy="396.4" rx="22.6" ry="8.3" fill="#fff"/>
<ellipse cx="263.8" cy="475.7" rx="22.6" ry="8.3" fill="#fff"/>
<ellipse cx="422.5" cy="396.4" rx="22.6" ry="8.3" fill="#fff"/>
<ellipse cx="422.5" cy="475.7" rx="22.6" ry="8.3" fill="#fff"/>
<ellipse cx="581.2" cy="396.4" rx="22.6" ry="8.3" fill="#fff"/>
<ellipse cx="581.2" cy="475.7" rx="22.6" ry="8.3" fill="#fff"/>
</g>
<line x1="89.84" x2="89.84" y1="515.40" y2="510.40" stroke="#000" stroke-width="0.9"/>
<line x1="121.58" x2="121.58" y1="515.40" y2="510.40" stroke="#000" stroke-width="0.9"/>
<line x1="153.32" x2="153.32" y1="515.40" y2="510.40" stroke="#000" stroke-width="0.9"/>
<line x1="185.06" x2="185.06" y1="515.40" y2="510.40" stroke="#000" stroke-width="0.9"/>
<line x1="216.80" x2="216.80" y1="515.40" y2="506.20" stroke="#000" stroke-width="2.5"/>
<line x1="248.54" x2="248.54" y1="515.40" y2="510.40" stroke="#000" stroke-width="0.9"/>
<line x1="280.28" x2="280.28" y1="515.40" y2="510.40" stroke="#000" stroke-width="0.9"/>
<line x1="312.02" x2="312.02" y1="515.40" y2="510.40" stroke="#000" stroke-width="0.9"/>
<line x1="343.76" x2="343.76" y1="515.40" y2="510.40" stroke="#000" stroke-width="0.9"/>
<line x1="375.50" x2="375.50" y1="515.40" y2="506.20" stroke="#000" stroke-width="2.5"/>
<line x1="407.24" x2="407.24" y1="515.40" y2="510.40" stroke="#000" stroke-width="0.9"/>
<line x1="438.98" x2="438.98" y1="515.40" y2="510.40" stroke="#000" stroke-width="0.9"/>
<line x1="470.72" x2="470.72" y1="515.40" y2="510.40" stroke="#000" stroke-width="0.9"/>
<line x1="502.46" x2="502.46" y1="515.40" y2="510.40" stroke="#000" stroke-width="0.9"/>
<line x1="534.20" x2="534.20" y1="515.40" y2="506.20" stroke="#000" stroke-width="2.5"/>
<line x1="565.94" x2="565.94" y1="515.40" y2="510.40" stroke="#000" stroke-width="0.9"/>
<line x1="597.68" x2="597.68" y1="515.40" y2="510.40" stroke="#000" stroke-width="0.9"/>
<line x1="629.42" x2="629.42" y1="515.40" y2="510.40" stroke="#000" stroke-width="0.9"/>
<line x1="661.16" x2="661.16" y1="515.40" y2="510.40" stroke="#000" stroke-width="0.9"/>
<line x1="58.10" x2="63.10" y1="499.53" y2="499.53" stroke="#000" stroke-width="0.9"/>
<line x1="58.10" x2="63.10" y1="483.66" y2="483.66" stroke="#000" stroke-width="0.9"/>
<line x1="58.10" x2="63.10" y1="467.79" y2="467.79" stroke="#000" stroke-width="0.9"/>
<line x1="58.10" x2="63.10" y1="451.92" y2="451.92" stroke="#000" stroke-width="0.9"/>
<line x1="58.10" x2="66.90" y1="436.05" y2="436.05" stroke="#000" stroke-width="2.5"/>
<line x1="58.10" x2="63.10" y1="420.18" y2="420.18" stroke="#000" stroke-width="0.9"/>
<line x1="58.10" x2="63.10" y1="404.31" y2="404.31" stroke="#000" stroke-width="0.9"/>
<line x1="58.10" x2="63.10" y1="388.44" y2="388.44" stroke="#000" stroke-width="0.9"/>
<line x1="58.10" x2="63.10" y1="372.57" y2="372.57" stroke="#000" stroke-width="0.9"/>
<rect x="58.10" y="356.70" width="634.80" height="158.70" fill="none" stroke="#000" stroke-width="2.9"/>
<text class="k" x="57.8" y="540.8" text-anchor="middle">-20</text>
<text class="k" x="216.5" y="540.8" text-anchor="middle">-10</text>
<text class="k" x="375.2" y="540.8" text-anchor="middle">0</text>
<text class="k" x="533.9" y="540.8" text-anchor="middle">10</text>
<text class="k" x="692.6" y="540.8" text-anchor="middle">20</text>
<text class="k" x="48.6" y="365.6" text-anchor="end">5</text>
<text class="k" x="48.6" y="444.9" text-anchor="end">0</text>
<text class="k" x="48.6" y="524.3" text-anchor="end">-5</text>
<text class="ax" x="374.3" y="566.5" text-anchor="middle">x/D</text>
<text class="ax" transform="translate(23.3,435.5) rotate(-90)" text-anchor="middle">y/D</text>
<text class="cap" x="373.2" y="603.3" text-anchor="middle">(b)</text>
</svg>
</body></html>
